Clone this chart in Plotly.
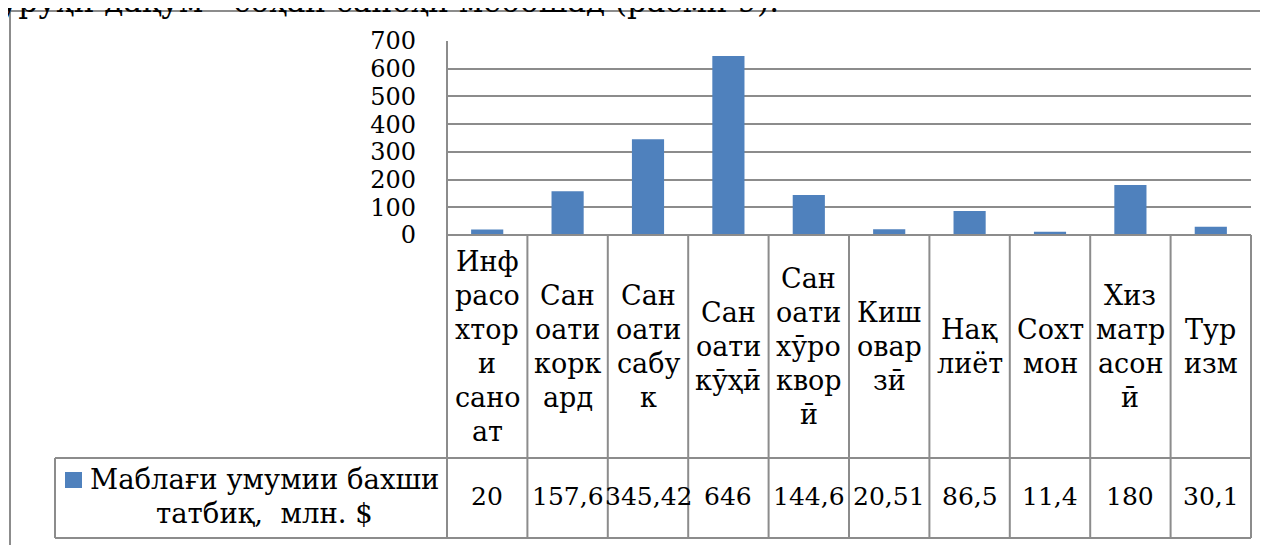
import plotly.graph_objects as go

# ---------------- data ----------------
categories = [
    "Инф\nрасо\nхтор\nи\nсано\nат",
    "Сан\nоати\nкорк\nард",
    "Сан\nоати\nсабу\nк",
    "Сан\nоати\nкӯҳӣ",
    "Сан\nоати\nхӯро\nквор\nӣ",
    "Киш\nовар\nзӣ",
    "Нақ\nлиёт",
    "Сохт\nмон",
    "Хиз\nматр\nасон\nӣ",
    "Тур\nизм",
]
values = [20, 157.6, 345.42, 646, 144.6, 20.51, 86.5, 11.4, 180, 30.1]
series_name = ["Маблағи умумии бахши", "татбиқ,  млн. $"]
y_ticks = [0, 100, 200, 300, 400, 500, 600, 700]
page_text = "уруҳи дақум - соҳаи саноҳи мебошад (расми 9)."

# ---------------- layout constants (pixels in the 1268x545 window) ----------------
W, H = 1268, 545
OFF = 8                                   # default page body margin
PL, PR, PT, PB = 447, 1251, 41, 235      # plot area
ROW_TOP, ROW_BOT = 458, 538              # values row of data table
LEG_LEFT = 55
FONT = "DejaVu Serif"
FS_CAT = 27
FS_VAL = 25
FS_LEG = 27.5
FS_TICK = 24
BAR_COLOR = "#4F81BD"
LINE_COLOR = "#8c8c8c"
LINE_PITCH = 34


def px(xp):
    return (xp - PL) / (PR - PL)


def py(yp):
    return (PB - yp) / (PB - PT)


n = len(values)
x_idx = list(range(n))

fig = go.Figure()
fig.add_trace(go.Bar(
    x=x_idx, y=values, width=0.4, marker=dict(color=BAR_COLOR, line=dict(width=0)),
    name=" ".join(series_name), showlegend=False, hoverinfo="x+y",
))

shapes = []
annotations = []


def hline(y, x0, x1, w=2):
    shapes.append(dict(type="line", xref="paper", yref="paper", x0=px(x0), x1=px(x1),
                       y0=py(y), y1=py(y), line=dict(color=LINE_COLOR, width=w), layer="above"))


def vline(x, y0, y1, w=2):
    shapes.append(dict(type="line", xref="paper", yref="paper", x0=px(x), x1=px(x),
                       y0=py(y0), y1=py(y1), line=dict(color=LINE_COLOR, width=w), layer="above"))


# outer chart frame (top and left edges visible)
hline(11, 10, W + 5)
vline(10, 11, H + 5)

# plot area border
vline(PL, PT, ROW_BOT)
hline(PB, PL, PR)

# data table grid
col_w = (PR - PL) / n
for i in range(n + 1):
    vline(PL + i * col_w, PB, ROW_BOT)
hline(ROW_TOP, LEG_LEFT, PR)
hline(ROW_BOT, LEG_LEFT, PR)
vline(LEG_LEFT, ROW_TOP, ROW_BOT)

# category labels (wrapped, one annotation per line)
cell_mid = (PB + ROW_TOP) / 2
for i, lab in enumerate(categories):
    lines = lab.split("\n")
    m = len(lines)
    cx = PL + (i + 0.5) * col_w
    for k, t in enumerate(lines):
        yy = cell_mid + (k - (m - 1) / 2) * LINE_PITCH
        annotations.append(dict(x=px(cx), y=py(yy), xref="paper", yref="paper", text=t,
                                showarrow=False, xanchor="center", yanchor="middle",
                                font=dict(family=FONT, size=FS_CAT, color="black")))

# values row
row_mid = (ROW_TOP + ROW_BOT) / 2 - 2
for i, v in enumerate(values):
    cx = PL + (i + 0.5) * col_w
    annotations.append(dict(x=px(cx), y=py(row_mid), xref="paper", yref="paper",
                            text=f"{v:g}".replace(".", ","), showarrow=False,
                            xanchor="center", yanchor="middle",
                            font=dict(family=FONT, size=FS_VAL, color="black")))

# legend key and series name
shapes.append(dict(type="rect", xref="paper", yref="paper", x0=px(65), x1=px(82),
                   y0=py(472), y1=py(488), fillcolor=BAR_COLOR, line=dict(width=0)))
leg_cx = 264
for k, t in enumerate(series_name):
    yy = row_mid + (k - 0.5) * LINE_PITCH
    annotations.append(dict(x=px(leg_cx), y=py(yy), xref="paper", yref="paper", text=t,
                            showarrow=False, xanchor="center", yanchor="middle",
                            font=dict(family=FONT, size=FS_LEG, color="black")))

# document text above the chart (cut off at the top of the picture)
annotations.append(dict(x=px(-2), y=py(21), xref="paper", yref="paper", text=page_text,
                        showarrow=False, xanchor="left", yanchor="bottom",
                        font=dict(family=FONT, size=31, color="black")))

fig.update_layout(
    width=W - OFF, height=H - OFF,
    margin=dict(l=PL - OFF, r=(W - OFF) - (PR - OFF), t=PT - OFF, b=(H - OFF) - (PB - OFF), pad=0),
    paper_bgcolor="white", plot_bgcolor="white",
    showlegend=False,
    bargap=0.6,
    xaxis=dict(range=[-0.5, n - 0.5], showticklabels=False, showgrid=False,
               zeroline=False, showline=False, ticks="", fixedrange=True),
    yaxis=dict(range=[0, 700], tickvals=y_ticks, ticktext=[str(t) for t in y_ticks],
               showgrid=True, gridcolor=LINE_COLOR, gridwidth=2, zeroline=False,
               showline=False, ticks="", ticklabelstandoff=30,
               tickfont=dict(family=FONT, size=FS_TICK, color="black"), fixedrange=True),
    shapes=shapes,
    annotations=annotations,
)

fig.write_html("out.html")
